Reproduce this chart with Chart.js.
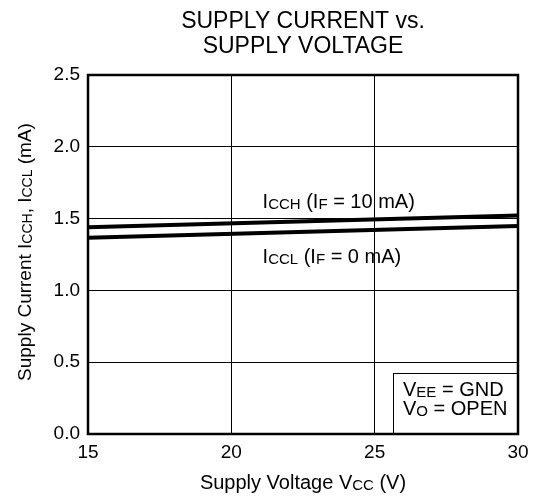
<!DOCTYPE html>
<html><head><meta charset="utf-8">
<script src="https://cdn.jsdelivr.net/npm/chart.js@4/dist/chart.umd.min.js"></script>
<style>html,body{margin:0;padding:0;background:#fff}#wrap{width:537px;height:499px}</style>
</head><body><div id="wrap"><canvas id="c" width="537" height="499"></canvas></div>
<script>
const xValues = [15, 30];
const icchValues = [1.44, 1.522];
const icclValues = [1.367, 1.449];
const xTicks = [15, 20, 25, 30];
const yTicks = [0, 0.5, 1.0, 1.5, 2.0, 2.5];
const titleLines = ['SUPPLY CURRENT vs.', 'SUPPLY VOLTAGE'];

const FONT = '"Liberation Sans", Arial, sans-serif';

function toPts(ys){ return xValues.map((x,i)=>({x:x,y:ys[i]})); }

function drawRich(ctx, segs, x, y, size, align, ratio){
  const r = ratio || 0.74;
  const subSize = Math.round(size*r);
  let total = 0;
  segs.forEach(s=>{ctx.font = (s[1]?subSize:size)+'px '+FONT; total += ctx.measureText(s[0]).width;});
  let cx = align==='center' ? x - total/2 : (align==='right' ? x-total : x);
  ctx.textBaseline = 'alphabetic';
  ctx.textAlign = 'left';
  segs.forEach(s=>{
    ctx.font = (s[1]?subSize:size)+'px '+FONT;
    ctx.fillText(s[0], cx, y + (s[1]? 1 : 0));
    cx += ctx.measureText(s[0]).width;
  });
  return total;
}

const textPlugin = {
  id:'texts',
  afterDraw(chart){
    const ctx = chart.ctx; const xs = chart.scales.x; const ys = chart.scales.y;
    const ca = chart.chartArea;
    ctx.save();
    ctx.fillStyle = '#000';
    // title
    ctx.font = '23px '+FONT; ctx.textAlign='center'; ctx.textBaseline='alphabetic';
    const cxm = (ca.left+ca.right)/2;
    ctx.fillText(titleLines[0], cxm, 28);
    ctx.fillText(titleLines[1], cxm, 53);
    // x axis title
    drawRich(ctx, [['Supply Voltage V',false],['CC',true],[' (V)',false]], cxm, 489, 20, 'center');
    // y axis title
    ctx.save();
    ctx.translate(31, 252);
    ctx.rotate(-Math.PI/2);
    drawRich(ctx, [['Supply Current I',false],['CCH',true],[', I',false],['CCL',true],[' (mA)',false]], 0, 0, 19, 'center', 0.72);
    ctx.restore();
    // line labels
    drawRich(ctx, [['I',false],['CCH',true],[' (I',false],['F',true],[' = 10 mA)',false]], xs.getPixelForValue(21.09), ys.getPixelForValue(1.572), 20, 'left');
    drawRich(ctx, [['I',false],['CCL',true],[' (I',false],['F',true],[' = 0 mA)',false]], xs.getPixelForValue(21.09), ys.getPixelForValue(1.189), 20, 'left');
    // condition box
    const bx = Math.round(xs.getPixelForValue(25.64)), by = Math.round(ys.getPixelForValue(0.422));
    ctx.fillStyle='#fff'; ctx.fillRect(bx, by, ca.right-bx, ca.bottom-by);
    ctx.strokeStyle='#000'; ctx.lineWidth=1;
    ctx.strokeRect(bx+0.5, by+0.5, ca.right-bx, ca.bottom-by);
    ctx.fillStyle='#000';
    drawRich(ctx, [['V',false],['EE',true],[' = GND',false]], bx+10, by+23, 20, 'left');
    drawRich(ctx, [['V',false],['O',true],[' = OPEN',false]], bx+10, by+42, 20, 'left');
    // border
    ctx.strokeStyle='#000'; ctx.lineWidth=2.5;
    ctx.strokeRect(ca.left, ca.top, ca.right-ca.left, ca.bottom-ca.top);
    ctx.restore();
  }
};

new Chart(document.getElementById('c'), {
  type:'line',
  data:{datasets:[
    {label:'ICCH', data: toPts(icchValues), borderColor:'#000', borderWidth:4, pointRadius:0, tension:0},
    {label:'ICCL', data: toPts(icclValues), borderColor:'#000', borderWidth:4, pointRadius:0, tension:0}
  ]},
  options:{
    responsive:false, animation:false,
    layout:{padding:{left:0, top:75, right:19, bottom:35}},
    plugins:{legend:{display:false}, tooltip:{enabled:false}, title:{display:false}},
    scales:{
      x:{type:'linear', min:15, max:30,
        afterBuildTicks(s){ s.ticks = xTicks.map(v=>({value:v})); },
        afterFit(s){ s.height = 30; },
        grid:{color:'#000', lineWidth:1, drawTicks:false},
        border:{display:false},
        ticks:{color:'#000', font:{family:FONT, size:19}, padding:7, maxRotation:0, callback:v=>String(v)}
      },
      y:{type:'linear', min:0, max:2.5,
        afterBuildTicks(s){ s.ticks = yTicks.map(v=>({value:v})); },
        afterFit(s){ s.width = 88; },
        grid:{color:'#000', lineWidth:1, drawTicks:false},
        border:{display:false},
        ticks:{color:'#000', font:{family:FONT, size:19}, padding:8, callback:v=>Number(v).toFixed(1)}
      }
    }
  },
  plugins:[textPlugin]
});
</script></body></html>
